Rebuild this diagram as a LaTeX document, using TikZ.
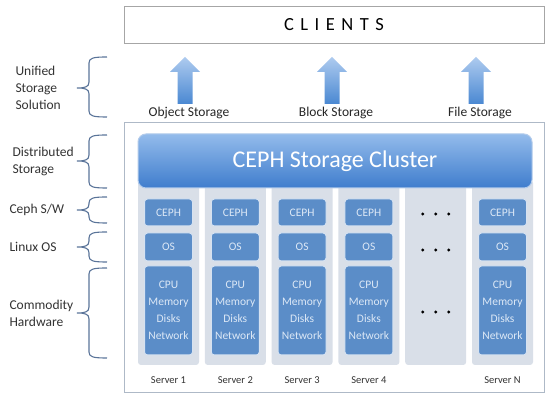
\documentclass[tikz,border=0pt]{standalone}
\usepackage{fontspec}
\setmainfont{Carlito}
\definecolor{cephblue}{HTML}{5B8DC8}
\definecolor{boxtext}{HTML}{DCE8F6}
\definecolor{colbg}{HTML}{D9DFE8}
\definecolor{bracecol}{HTML}{5A7499}
\definecolor{framecol}{HTML}{AEB9C7}
\definecolor{arrowtop}{HTML}{AECBEF}
\definecolor{arrowbot}{HTML}{4A88D2}
\definecolor{clustop}{HTML}{93BBEB}
\definecolor{clusbot}{HTML}{3F7DCD}
\begin{document}
\begin{tikzpicture}[x=1pt,y=-1pt,
    box/.style={draw=white!75!cephblue,line width=1pt,fill=cephblue,rounded corners=3pt,
        text=boxtext,minimum width=48pt,inner sep=0pt,align=center,
        font=\fontsize{11.5}{17}\selectfont},
    column/.style={fill=colbg,rounded corners=3pt},
    bracket/.style={draw=bracecol,line width=1.1pt},
    layer/.style={anchor=west,align=left,text=black!80,font=\fontsize{13.5}{17}\selectfont},
    storage/.style={text=black!85,font=\fontsize{13.5}{16}\selectfont},
    server/.style={text=black!80,font=\fontsize{10.5}{12}\selectfont}]
    \useasboundingbox (0,0) rectangle (550,403);

    % clients on top
    \node[draw=black!35,minimum width=420pt,minimum height=37pt,inner sep=0pt,
        font=\fontsize{18.5}{20}\selectfont] (clients) at (334,24.5)
        {C\kern6.5pt L\kern6.5pt I\kern6.5pt E\kern6.5pt N\kern6.5pt T\kern6.5pt S};

    % storage interfaces
    \foreach \x/\lx/\txt/\nm in {185/189/Object Storage/obj,332/336/Block Storage/blk,476/480/File Storage/fil} {
        \shade[top color=arrowtop,bottom color=arrowbot] (\x-7.5,104) -- (\x-7.5,72) -- (\x-15,72)
            -- (\x,57) -- (\x+15,72) -- (\x+7.5,72) -- (\x+7.5,104) -- cycle;
        \node[storage] (\nm) at (\lx,113) {\txt};
    }

    \draw[framecol,fill=white,line width=1pt] (124,123) rectangle (544,393);
    \foreach \i in {1,...,6} {
        \pgfmathsetmacro\cx{138+66.8*(\i-1)}
        \fill[column] (\cx,180) rectangle (\cx+61,365);
    }
    \node[draw=white!60!clusbot,line width=1pt,rounded corners=8pt,top color=clustop,bottom color=clusbot,
        minimum width=394pt,minimum height=54pt,text=white,font=\fontsize{24}{26}\selectfont]
        (cluster) at (335,161) {CEPH Storage Cluster};

    % one stack per server
    \foreach \i/\nm in {1/Server 1,2/Server 2,3/Server 3,4/Server 4,6/Server N} {
        \pgfmathsetmacro\cx{168.5+66.8*(\i-1)}
        \node[box,minimum height=27pt] (ceph\i) at (\cx,212.5) {CEPH};
        \node[box,minimum height=28pt] (os\i) at (\cx,247) {OS};
        \node[box,minimum height=89pt] (hw\i) at (\cx,310.5) {CPU\\Memory\\Disks\\Network};
        \node[server] (srv\i) at (\cx,380) {\nm};
    }
    \foreach \y in {214,250,312} \foreach \dx in {-13,0,13}
        \fill (435.7+\dx,\y) circle (1.6pt);

    % layers on the left
    \foreach \ya/\ym/\yb/\lx/\txt/\nm in {57/88/117/12/{Unified\\Storage\\Solution}/uni,
        135/161/188/9/{Distributed\\Storage}/dist,197/210/223/6/{Ceph S\slash W}/sw,
        232/247/262/6/Linux OS/linux,268/313/358/6/{Commodity\\Hardware}/hwl} {
        \node[layer] (\nm) at (\lx,\ym) {\txt};
        \draw[bracket] (107,\ya) .. controls (93,\ya) and (89,\ya+1) .. (89,\ya+6) -- (89,\ym-6)
            .. controls (89,\ym-1) and (85,\ym) .. (77,\ym) .. controls (85,\ym) and (89,\ym+1) .. (89,\ym+6)
            -- (89,\yb-6) .. controls (89,\yb-1) and (93,\yb) .. (107,\yb);
    }
\end{tikzpicture}
\end{document}
